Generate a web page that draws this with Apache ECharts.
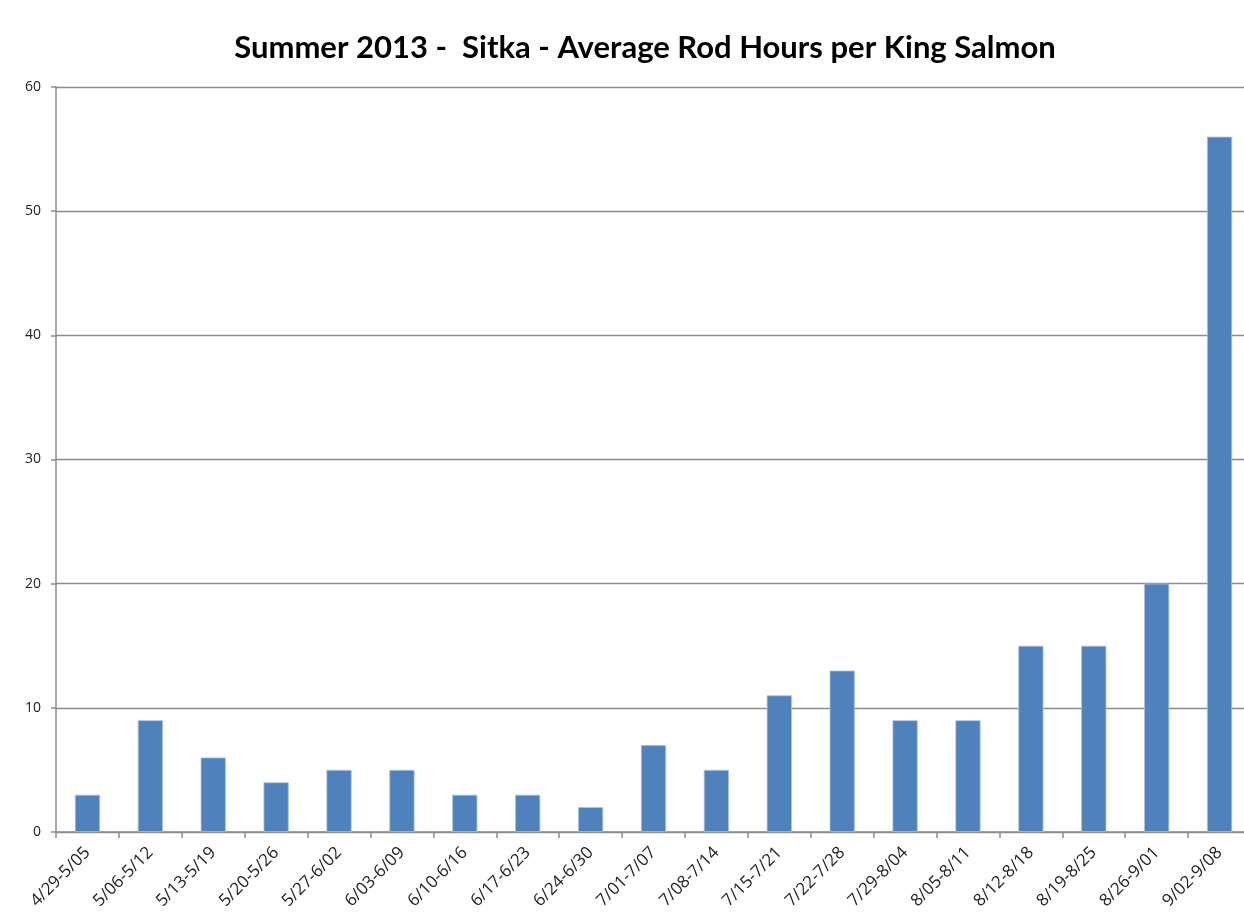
<!DOCTYPE html>
<html><head><meta charset="utf-8">
<script src="https://cdn.jsdelivr.net/npm/echarts@6/dist/echarts.min.js"></script>
<style>html,body{margin:0;padding:0;background:#fff;overflow:hidden}#c{width:1251px;height:923px}</style>
</head><body><div id="c"></div>
<script>
const categories = ["4/29-5/05","5/06-5/12","5/13-5/19","5/20-5/26","5/27-6/02","6/03-6/09","6/10-6/16","6/17-6/23","6/24-6/30","7/01-7/07","7/08-7/14","7/15-7/21","7/22-7/28","7/29-8/04","8/05-8/11","8/12-8/18","8/19-8/25","8/26-9/01","9/02-9/08"];
const rodHours = [3,9,6,4,5,5,3,3,2,7,5,11,13,9,9,15,15,20,56];
const yTicks = {min:0, max:60, interval:10};
const chart = echarts.init(document.getElementById('c'));
chart.setOption({
  animation:false,
  title:{text:'Summer 2013 -  Sitka - Average Rod Hours per King Salmon', left:640, textAlign:'center', top:27,
    textStyle:{fontFamily:'Lato', fontWeight:'bold', fontSize:31, color:'#000'}},
  grid:{left:56, right:0, top:87, bottom:91, containLabel:false},
  xAxis:{type:'category', data:categories,
    axisLine:{lineStyle:{color:'#8c8c8c', width:1.5}},
    axisTick:{show:true, alignWithLabel:false, length:6, lineStyle:{color:'#8c8c8c', width:1.5}},
    axisLabel:{rotate:45, interval:0, fontFamily:'Open Sans', fontSize:17, color:'#222', margin:18}},
  yAxis:{type:'value', min:yTicks.min, max:yTicks.max, interval:yTicks.interval,
    axisLine:{show:true, lineStyle:{color:'#8c8c8c', width:1.5}},
    axisTick:{show:true, length:5, lineStyle:{color:'#8c8c8c', width:1.5}},
    splitLine:{lineStyle:{color:'#8c8c8c', width:1.3}},
    axisLabel:{fontFamily:'Open Sans', fontSize:14, color:'#222', margin:15}},
  series:[{type:'bar', data:rodHours, barWidth:'40%',
    itemStyle:{color:'#4F81BD', borderColor:'#a9c1e0', borderWidth:0.8}}]
});
</script></body></html>
